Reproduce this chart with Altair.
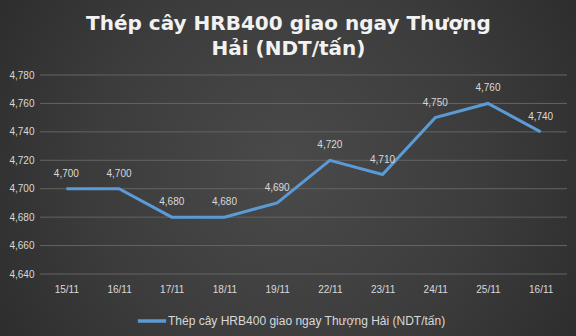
import altair as alt
import pandas as pd

dates = ["15/11", "16/11", "17/11", "18/11", "19/11", "22/11", "23/11", "24/11", "25/11", "16/11"]
prices = [4700, 4700, 4680, 4680, 4690, 4720, 4710, 4750, 4760, 4740]
y_ticks = [4640, 4660, 4680, 4700, 4720, 4740, 4760, 4780]
series_name = "Thép cây HRB400 giao ngay Thượng Hải (NDT/tấn)"
title_lines = ["Thép cây HRB400 giao ngay Thượng", "Hải (NDT/tấn)"]

df = pd.DataFrame({
    "idx": list(range(len(dates))),
    "date": dates,
    "price": prices,
    "series": [series_name] * len(dates),
})
grid_df = pd.DataFrame({"tick": y_ticks})

label_expr = "[" + ",".join("'" + d + "'" for d in dates) + "][datum.value]"

yscale = alt.Scale(domain=[4640, 4780], nice=False, zero=False)
y_axis = alt.Axis(values=y_ticks, format=",.0f", domain=False, ticks=False,
                  labelPadding=6, labelColor="#d9d9d9", labelFontSize=10,
                  labelFont="Liberation Sans", grid=False, zindex=1,
                  labelOverlap=False)

x = alt.X("idx:O", title=None,
          scale=alt.Scale(paddingInner=0, paddingOuter=0.5),
          axis=alt.Axis(labelExpr=label_expr, labelAngle=0, domain=False, ticks=False,
                        labelPadding=10, labelColor="#d9d9d9", labelFontSize=10,
                        labelFont="Liberation Sans", grid=False, zindex=1,
                        labelOverlap=False))
y = alt.Y("price:Q", title=None, scale=yscale, axis=y_axis)

bg = alt.Chart(alt.Data(values=[{}])).mark_rect(
    fill=alt.Gradient(gradient="radial",
                      stops=[alt.GradientStop(color="#4a4a4a", offset=0),
                             alt.GradientStop(color="#3c3c3c", offset=0.45),
                             alt.GradientStop(color="#232323", offset=1)],
                      x1=0.5, y1=0.5, r1=0, x2=0.5, y2=0.5, r2=0.75)
).encode(x=alt.value(-40), x2=alt.value(536), y=alt.value(-75), y2=alt.value(261))

grid = alt.Chart(grid_df).mark_rule(color="#646464", strokeWidth=1).encode(
    y=alt.Y("tick:Q", title=None, scale=yscale, axis=y_axis)
)

line = alt.Chart(df).mark_line(strokeWidth=3, strokeJoin="miter").encode(
    x=x, y=y,
    color=alt.Color("series:N", title=None,
                    scale=alt.Scale(range=["#5b9bd5"]),
                    legend=alt.Legend(orient="none", legendX=96, legendY=230,
                                      symbolType="stroke", symbolStrokeWidth=3.5,
                                      symbolSize=800, labelColor="#d9d9d9",
                                      labelFontSize=12, labelFont="Liberation Sans",
                                      labelLimit=400, labelOffset=0, zindex=1)),
)

labels = alt.Chart(df).mark_text(dy=-15, fontSize=10, color="#d9d9d9", font="Liberation Sans").encode(
    x=x, y=y, text=alt.Text("price:Q", format=",.0f")
)

chart = alt.layer(bg, grid, line, labels).properties(
    width=527, height=199,
    title=alt.TitleParams(text=title_lines, fontSize=20, font="DejaVu Sans", fontWeight="bold",
                          color="#f2f2f2", anchor="middle", frame="group", dx=-15, offset=-59,
                          lineHeight=25, zindex=1),
    background="#2e2e2e",
    padding={"left": 40, "top": 75, "right": 9, "bottom": 62},
    autosize=alt.AutoSizeParams(type="none"),
).configure_view(stroke=None)

chart.save("out.html", embed_options={"renderer": "svg", "actions": False})
